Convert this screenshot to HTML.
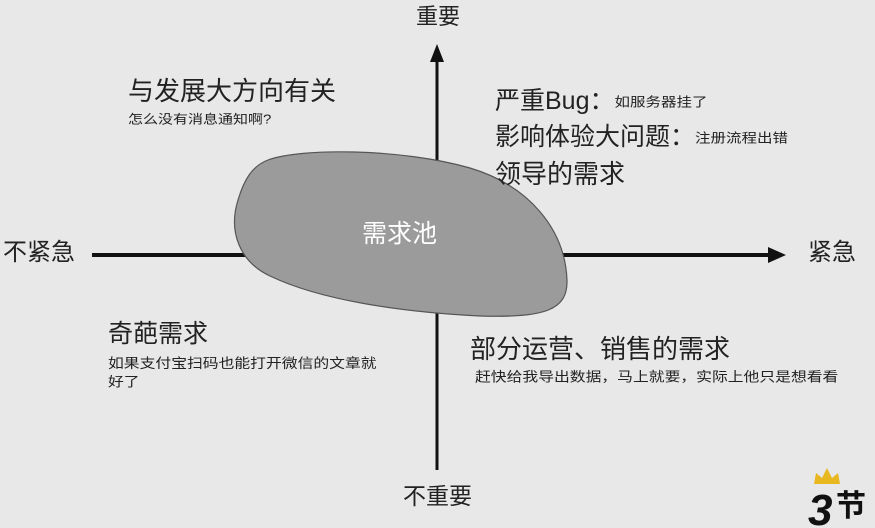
<!DOCTYPE html>
<html><head><meta charset="utf-8"><style>
body{margin:0;width:875px;height:525px;background:#e8e8e8;position:relative;overflow:hidden;font-family:"Liberation Sans","Noto Sans CJK SC",sans-serif;color:#222}
.t{position:absolute;white-space:nowrap;line-height:1}
.s{display:inline-block;transform:scaleY(0.85);transform-origin:left center}
</style></head><body>
<svg width="875" height="525" style="position:absolute;left:0;top:0">
<line x1="437" y1="470" x2="437" y2="58" stroke="#111" stroke-width="3"/>
<polygon points="437,44 430,62 444,62" fill="#111"/>
<line x1="92" y1="255" x2="770" y2="255" stroke="#111" stroke-width="4"/>
<polygon points="786,255 768,247 768,263" fill="#111"/>
<path d="M268,160 C300,148 400,148 470,168 C530,186 565,230 567,280 C568,310 545,318 480,316 C400,312 320,300 270,276 C240,262 228,232 238,200 C244,180 252,166 268,160 Z" fill="#9b9b9b" stroke="#555" stroke-width="1.2"/>
</svg>
<div class="t" style="left:416px;top:6px;font-size:22px">重要</div>
<div class="t" style="left:128px;top:78px;font-size:26px">与发展大方向有关</div>
<div class="t" style="left:128px;top:112px;font-size:15px"><span class="s">怎么没有消息通知啊?</span></div>
<div class="t" style="left:495px;top:89px;font-size:25px">严重Bug：<span class="s" style="font-size:15.5px;vertical-align:middle">如服务器挂了</span></div>
<div class="t" style="left:495px;top:125px;font-size:25px">影响体验大问题：<span class="s" style="font-size:15.5px;vertical-align:middle">注册流程出错</span></div>
<div class="t" style="left:495px;top:161px;font-size:26px">领导的需求</div>
<div class="t" style="left:3px;top:241px;font-size:24px">不紧急</div>
<div class="t" style="left:808px;top:241px;font-size:24px">紧急</div>
<div class="t" style="left:362px;top:222px;font-size:25px;color:#fff">需求池</div>
<div class="t" style="left:108px;top:322px;font-size:25px">奇葩需求</div>
<div class="t" style="left:108px;top:352px;font-size:15.8px;white-space:normal;width:275px;line-height:22px"><span class="s">如果支付宝扫码也能打开微信的文章就好了</span></div>
<div class="t" style="left:470px;top:336px;font-size:26px">部分运营、销售的需求</div>
<div class="t" style="left:475px;top:370px;font-size:15.8px"><span class="s">赶快给我导出数据，马上就要，实际上他只是想看看</span></div>
<div class="t" style="left:403px;top:485px;font-size:23px">不重要</div>
<svg width="70" height="60" style="position:absolute;left:808px;top:468px">
<polygon points="6,16 8,5 14,10 19,0 24,10 30,5 32,16" fill="#e8b820"/>
<text x="0" y="57" font-size="44" font-weight="bold" font-style="italic" font-family="Liberation Sans" fill="#111">3</text>
<text x="28" y="48" font-size="30" font-weight="bold" font-family="Noto Sans CJK SC" fill="#111">节</text>
</svg>
</body></html>
